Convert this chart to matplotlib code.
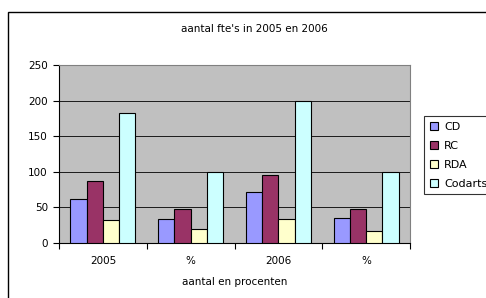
import matplotlib.pyplot as plt
import numpy as np
from matplotlib.patches import Rectangle

categories = ["2005", "%", "2006", "%"]
series_names = ["CD", "RC", "RDA", "Codarts"]
cd = [62, 34, 71, 35]
rc = [87, 48, 95, 48]
rda = [33, 19, 34, 17]
codarts = [183, 100, 199, 100]
colors = ["#9999FF", "#993366", "#FFFFCC", "#CCFFFF"]

W, H = 486, 298
fig = plt.figure(figsize=(W / 100, H / 100), dpi=100)
fig.patch.set_facecolor("white")

# outer chart border (runs off the right/bottom edge)
fig.patches.append(Rectangle((8 / W, -0.05), 1.0, 1 - 12 / H + 0.05,
                             transform=fig.transFigure, fill=False,
                             edgecolor="black", linewidth=1.0))

ax = fig.add_axes([59 / W, 1 - 243 / H, 351 / W, 178 / H])
ax.set_facecolor("#C0C0C0")

x = np.arange(len(categories))
bw = 0.185
for i, (name, vals) in enumerate(zip(series_names, [cd, rc, rda, codarts])):
    ax.bar(x + (i - 1.5) * bw, vals, width=bw, color=colors[i],
           edgecolor="black", linewidth=0.8, label=name, zorder=3)

ax.set_xlim(-0.5, 3.5)
ax.set_ylim(0, 250)
ax.set_yticks(range(0, 251, 50))
ax.yaxis.grid(True, color="black", linewidth=0.6, zorder=0)
ax.set_xticks(x)
ax.set_xticklabels(categories)
ax.set_xticks(np.arange(-0.5, 4, 1), minor=True)
ax.tick_params(axis="x", which="major", length=0, pad=9, labelsize=7.5)
ax.tick_params(axis="x", which="minor", length=4, direction="out", width=0.8)
ax.tick_params(axis="y", length=4, width=0.8, labelsize=7.5, pad=4)
for s in ["top", "right"]:
    ax.spines[s].set_color("#808080")
for s in ["left", "bottom"]:
    ax.spines[s].set_color("black")

fig.text(254 / W, 1 - 29 / H, "aantal fte's in 2005 en 2006",
         ha="center", va="center", fontsize=7.5)
fig.text(235 / W, 1 - 282 / H, "aantal en procenten",
         ha="center", va="center", fontsize=7.5)

leg = ax.legend(loc="upper left", bbox_to_anchor=(424 / W, 1 - 116 / H),
                bbox_transform=fig.transFigure, fontsize=8, frameon=True,
                fancybox=False, edgecolor="black", handlelength=0.8,
                handleheight=0.8, handletextpad=0.5, labelspacing=0.8,
                borderpad=0.5, borderaxespad=0)
leg.get_frame().set_linewidth(0.8)

fig.savefig("out.png", dpi=100)
